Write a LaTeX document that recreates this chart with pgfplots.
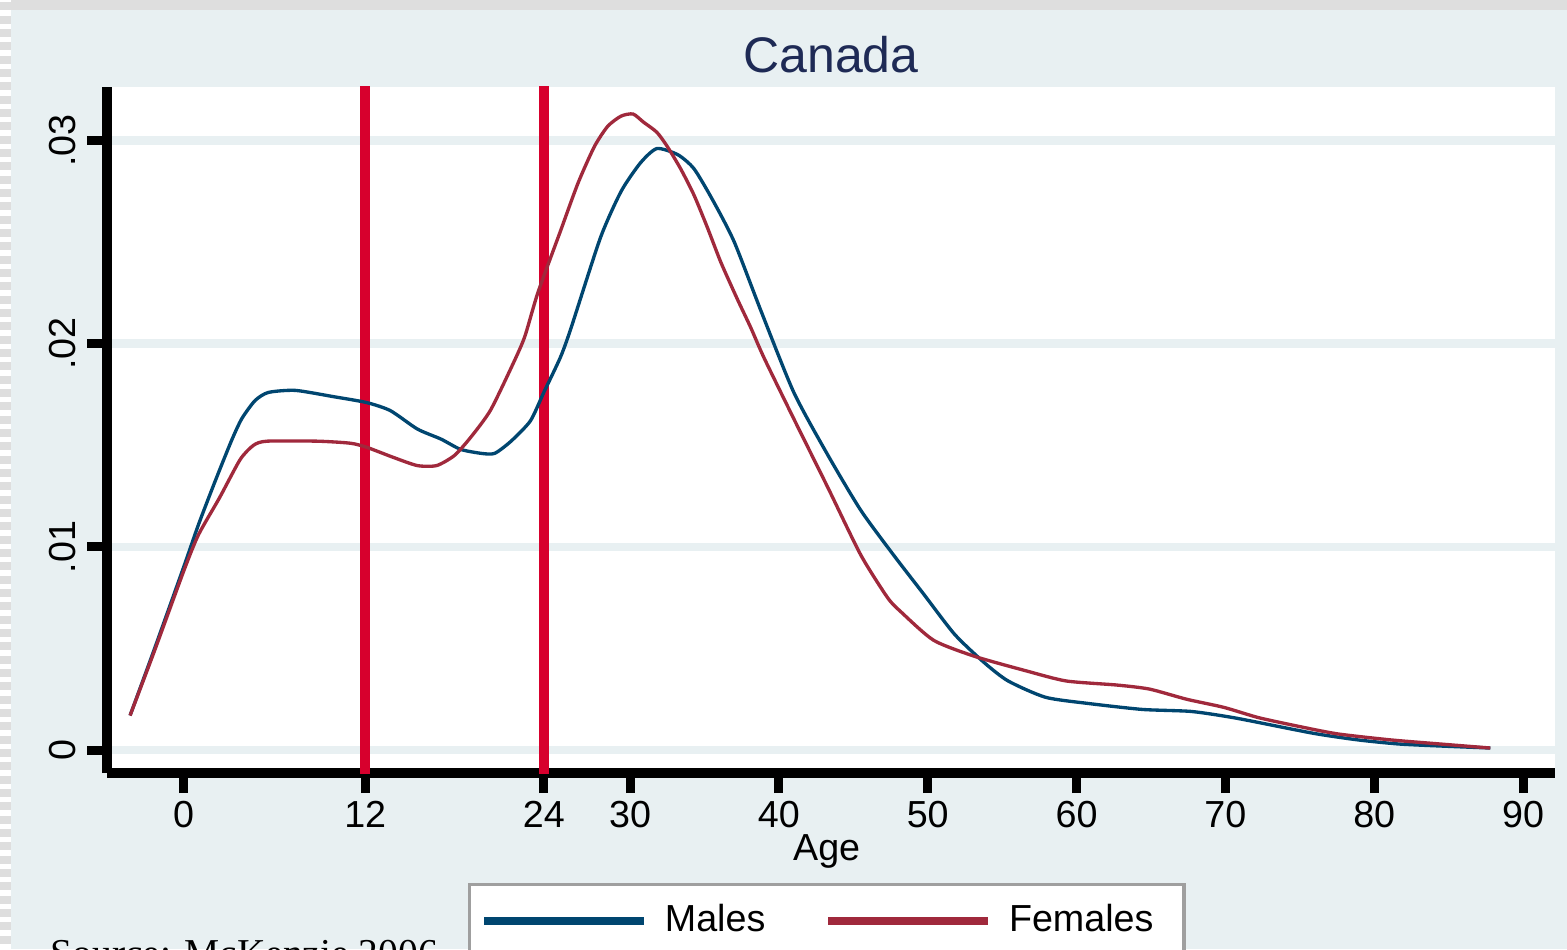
\documentclass[border=0pt]{standalone}
\usepackage{pgfplots}
\pgfplotsset{compat=1.18}
\usepackage{fontspec}
\setmainfont{Liberation Sans}
\newfontfamily\seriffont{Liberation Serif}
\definecolor{bgc}{RGB}{232,240,242}
\definecolor{malec}{RGB}{0,70,112}
\definecolor{femc}{RGB}{160,41,60}
\definecolor{vred}{RGB}{215,0,45}
\definecolor{titlec}{RGB}{30,42,85}
\definecolor{stripec}{RGB}{222,222,222}
\begin{document}
\begin{tikzpicture}
\fill[bgc] (0,0) rectangle (470.1pt,284.7pt);
\fill[stripec] (0,281.7pt) rectangle (470.1pt,284.7pt);
\fill[stripec] (0,0) rectangle (3.3pt,284.7pt);
\foreach \i in {0,...,71} {\fill[white] (0,\i*4pt) rectangle (3.3pt,\i*4pt+1.6pt);}
\begin{axis}[
  at={(32.1pt,52.8pt)}, anchor=south west, scale only axis,
  width=434.4pt, height=205.8pt,
  xmin=-5.15, xmax=92.15, ymin=-0.00113, ymax=0.03263,
  axis lines=left, axis line style={-, line width=3pt, black},
  axis background/.style={fill=white},
  ymajorgrids, grid style={color=bgc, line width=2.6pt},
  xtick={0,12.2,24.2,30,40,50,60,70,80,90},
  xticklabels={0,12,24,30,40,50,60,70,80,90},
  ytick={0,0.01,0.02,0.03}, yticklabels={0,.01,.02,.03},
  scaled y ticks=false,
  tick align=outside, major tick length=6pt,
  tick style={line width=2.7pt, black},
  tick label style={font=\fontsize{11.3}{13}\selectfont},
  xticklabel style={anchor=base, yshift=-10.2pt},
  yticklabel style={xshift=-3.6pt, rotate=90, anchor=base},
  xlabel={Age},
  xlabel style={at={(axis description cs:0.497,0)}, anchor=base, yshift=-26.1pt, font=\fontsize{11.3}{13}\selectfont},
  title={Canada},
  title style={at={(axis description cs:0.5,1)}, anchor=base, yshift=-1.8pt, font=\fontsize{15}{18}\selectfont, color=titlec},
  legend columns=2,
  legend style={at={(0.497,0)}, anchor=north, yshift=-33pt, draw=gray!75, line width=1pt, fill=white,
    font=\fontsize{11.3}{13}\selectfont, inner xsep=3.2pt, inner ysep=4pt,
    /tikz/every even column/.append style={column sep=15.6pt}},
  legend image code/.code={\draw[#1, line width=2.6pt] (0pt,0pt) -- (48pt,0pt); \path (51.7pt,0pt);},
]
\addplot[vred, line width=3pt, forget plot] coordinates {(12.2,-0.002) (12.2,0.04)};
\addplot[vred, line width=3pt, forget plot] coordinates {(24.2,-0.002) (24.2,0.04)};
\addplot[malec, line width=1pt, smooth, tension=0.4] table {
x y
-3.6 0.0017
-2 0.0049
0 0.0090
1 0.0111
2.1 0.0132
3.2 0.0152
3.9 0.0163
4.8 0.0172
5.7 0.0176
7.5 0.0177
10 0.0174
12.3 0.0171
13.9 0.0167
15.7 0.0158
17.3 0.0153
18.6 0.0148
20 0.0146
20.9 0.0146
22 0.0152
23.3 0.0162
24.2 0.0176
25.3 0.0193
26.0 0.0207
28.0 0.0252
29.4 0.0275
30.7 0.0289
31.8 0.0296
33.2 0.0293
34.3 0.0286
35.6 0.0270
37.0 0.0250
38.8 0.0216
41.0 0.0176
43.3 0.0145
45.5 0.0118
47.7 0.0096
49.7 0.0077
51.8 0.0057
53.8 0.0043
55.4 0.0034
57.9 0.0026
60.7 0.0023
64.4 0.0020
67.7 0.0019
70.5 0.0016
73.3 0.0012
76.1 0.0008
78.9 0.0005
81.6 0.0003
84.4 0.0002
87.8 0.0001
};
\addlegendentry{Males}
\addplot[femc, line width=1pt, smooth, tension=0.4] table {
x y
-3.6 0.0017
-2 0.0048
0 0.0088
1 0.0106
2.4 0.0124
3.8 0.0143
4.7 0.0150
5.6 0.0152
9.0 0.0152
11.2 0.0151
12.3 0.0149
14.1 0.0144
15.7 0.0140
17.0 0.0140
18.2 0.0145
19.3 0.0154
20.6 0.0167
22.0 0.0188
22.9 0.0203
23.8 0.0225
25.3 0.0255
26.5 0.0279
27.6 0.0297
28.5 0.0307
29.4 0.0312
30.2 0.0313
30.9 0.0309
31.8 0.0304
32.5 0.0297
33.4 0.0286
34.3 0.0273
35.2 0.0257
36.1 0.0240
37.2 0.0222
38.1 0.0208
39.0 0.0193
41.0 0.0163
43.3 0.0129
45.5 0.0096
47.3 0.0075
48.2 0.0068
50.4 0.0054
53.2 0.0046
56.6 0.0039
59.3 0.0034
62.7 0.0032
64.9 0.0030
67.4 0.0025
69.9 0.0021
72.2 0.0016
74.7 0.0012
77.5 0.0008
81.1 0.0005
84.4 0.0003
87.8 0.0001
};
\addlegendentry{Females\kern4pt}
\end{axis}
\node[anchor=base west, inner sep=0pt, font=\seriffont\fontsize{11.85}{14}\selectfont] at (15pt,-5.1pt) {Source: McKenzie 2006};
\pgfresetboundingbox
\useasboundingbox (0,0) rectangle (470.1pt,284.7pt);
\end{tikzpicture}
\end{document}
